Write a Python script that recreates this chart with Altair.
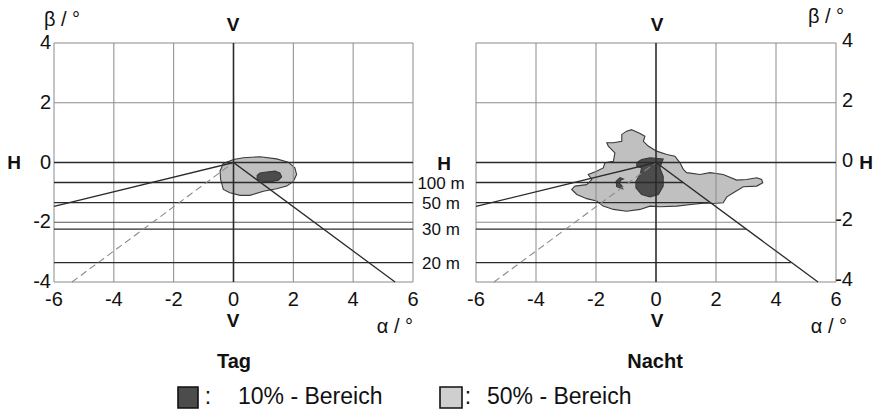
import altair as alt
import pandas as pd

FONT = "Liberation Sans"

# ---- axis ticks ----
x_ticks = [-6, -4, -2, 0, 2, 4, 6]
x_tick_labels = ["-6", "-4", "-2", "0", "2", "4", "6"]
y_ticks = [-4, -2, 0, 2, 4]
y_tick_labels = ["-4", "-2", "0", "2", "4"]

grid_x = [-4, -2, 2, 4]
grid_y = [-2, 2]
frame_x = [-6, 6]
frame_y = [-4, 4]

# ---- distance lines (Sichtweite) ----
dist_names = ["100 m", "50 m", "30 m", "20 m"]
dist_beta = [-0.67, -1.34, -2.23, -3.35]
dist_end_nacht = [0.9, 1.75, 3.0, 4.5]

# ---- sight lines ----
sight_x = [-6.0, 0.0, 5.4]
sight_b = [-1.47, 0.0, -4.0]
dash_x = [-5.4, 0.0]
dash_b = [-4.0, 0.0]

# ---- Tag: 50% / 10% regions ----
tag50_x = [-0.34, 0.0, 0.33, 0.89, 1.44, 1.83, 2.05, 2.11, 2.0, 1.78, 1.44, 1.0,
           0.55, 0.22, -0.12, -0.34, -0.43, -0.45]
tag50_b = [-0.03, 0.1, 0.16, 0.19, 0.12, 0.01, -0.18, -0.40, -0.63, -0.79, -0.88, -0.96,
           -1.10, -1.10, -1.01, -0.90, -0.57, -0.29]
tag10_x = [0.79, 0.885, 1.11, 1.39, 1.55, 1.61, 1.50, 1.22, 0.94, 0.79]
tag10_b = [-0.43, -0.35, -0.32, -0.29, -0.35, -0.48, -0.59, -0.65, -0.63, -0.55]

# ---- Nacht: 50% / 10% regions ----
nacht50_x = [-0.81, -0.53, -0.37, -0.42, -0.26, 0.02, 0.36, 0.63, 0.8, 0.91, 1.02, 1.47,
             1.8, 2.24, 2.69, 3.02, 3.36, 3.52, 3.56, 3.36, 2.91, 2.58, 2.36, 2.24,
             1.91, 1.69, 1.24, 0.69, 0.13, -0.2, -0.53, -0.98, -1.42, -1.76, -1.98, -2.31,
             -2.64, -2.81, -2.7, -2.31, -2.14, -2.26, -1.98, -1.76, -1.7, -1.42, -1.37, -1.59,
             -1.64, -1.42, -1.14, -1.14, -0.98]
nacht50_b = [1.10, 0.97, 0.88, 0.71, 0.55, 0.38, 0.27, 0.21, -0.01, -0.23, -0.34, -0.40,
             -0.34, -0.40, -0.59, -0.57, -0.51, -0.57, -0.68, -0.79, -0.81, -1.01, -1.15, -1.35,
             -1.37, -1.35, -1.40, -1.46, -1.48, -1.46, -1.57, -1.63, -1.57, -1.46, -1.29, -1.21,
             -1.07, -0.90, -0.79, -0.74, -0.57, -0.40, -0.29, -0.18, -0.01, 0.04, 0.32, 0.55,
             0.66, 0.66, 0.71, 0.94, 1.05]
nacht10_x = [-0.64, -0.48, -0.2, 0.24, 0.19, 0.13, 0.24, 0.24, 0.08, -0.2, -0.48, -0.67,
             -0.67, -0.53, -0.48, -0.64]
nacht10_b = [-0.01, 0.10, 0.16, 0.12, -0.01, -0.18, -0.46, -0.79, -1.07, -1.15, -1.07, -0.85,
             -0.63, -0.40, -0.18, -0.12]
nacht10c_x = [-1.2, -1.33, -1.31, -1.11, -1.14, -1.22, -1.18, -1.09]
nacht10c_b = [-0.51, -0.63, -0.81, -0.88, -0.77, -0.70, -0.59, -0.55]

legend_labels = ["10% - Bereich", "50% - Bereich"]

# ---- styles ----
GRID = "#8a8a8a"
DARK = "#2b2b2b"
LIGHT_FILL = "#c0c0c0"
DARK_FILL = "#4c4c4c"
OUTLINE = "#3a3a3a"

YS = alt.Scale(domain=[-4, 4], range=[282, 43])
XL = alt.Scale(domain=[-6, 6], range=[54, 413])
XR = alt.Scale(domain=[-6, 6], range=[476, 836])


def poly(parts, xs, fill):
    rows = []
    for pid, (px, pb) in enumerate(parts):
        for i, (a, b) in enumerate(zip(px, pb)):
            rows.append({"part": pid, "i": i, "x": a, "b": b})
    return alt.Chart(pd.DataFrame(rows)).mark_line(
        interpolate="linear-closed", fill=fill, stroke=OUTLINE, strokeWidth=1.1, fillOpacity=1
    ).encode(
        x=alt.X("x:Q", scale=xs, axis=None),
        y=alt.Y("b:Q", scale=YS, axis=None),
        detail="part:N",
        order="i:Q",
    )


def vrules(vals, xs, color, width):
    df = pd.DataFrame({"x": vals, "b1": [frame_y[0]] * len(vals), "b2": [frame_y[1]] * len(vals)})
    return alt.Chart(df).mark_rule(color=color, strokeWidth=width).encode(
        x=alt.X("x:Q", scale=xs, axis=None),
        y=alt.Y("b1:Q", scale=YS, axis=None),
        y2="b2:Q",
    )


def hrules(vals, xs, color, width, ends=None):
    df = pd.DataFrame({"b": vals, "s": [frame_x[0]] * len(vals),
                       "e": ends if ends is not None else [frame_x[1]] * len(vals)})
    return alt.Chart(df).mark_rule(color=color, strokeWidth=width).encode(
        y=alt.Y("b:Q", scale=YS, axis=None),
        x=alt.X("s:Q", scale=xs, axis=None),
        x2="e:Q",
    )


def pline(px, pb, xs, color, width, dash=None):
    df = pd.DataFrame({"i": range(len(px)), "x": px, "b": pb})
    kw = dict(color=color, strokeWidth=width)
    if dash:
        kw["strokeDash"] = dash
    return alt.Chart(df).mark_line(**kw).encode(
        x=alt.X("x:Q", scale=xs, axis=None),
        y=alt.Y("b:Q", scale=YS, axis=None),
        order="i:Q",
    )


def xlabels(xs):
    df = pd.DataFrame({"v": x_ticks, "lab": x_tick_labels})
    return alt.Chart(df).mark_text(font=FONT, fontSize=20, baseline="middle", color="#111").encode(
        x=alt.X("v:Q", scale=xs, axis=None), y=alt.value(300), text="lab:N"
    )


def ylabels(xpos, align, dy=0):
    df = pd.DataFrame({"v": y_ticks, "lab": y_tick_labels})
    return alt.Chart(df).mark_text(font=FONT, fontSize=20, baseline="middle", align=align,
                                   color="#111", dy=dy).encode(
        y=alt.Y("v:Q", scale=YS, axis=None), x=alt.value(xpos), text="lab:N"
    )


def txt(s, x, y, size=20, weight="normal", align="center", font=FONT):
    return alt.Chart(pd.DataFrame({"t": [s]})).mark_text(
        font=font, fontSize=size, fontWeight=weight, align=align, baseline="middle", color="#111"
    ).encode(x=alt.value(x), y=alt.value(y), text="t:N")


def box(x1, x2, y1, y2, fill):
    return alt.Chart(pd.DataFrame({"k": [0]})).mark_rect(fill=fill, stroke="#111", strokeWidth=1.6).encode(
        x=alt.value(x1), x2=alt.value(x2), y=alt.value(y1), y2=alt.value(y2)
    )


layers = []
# --- Tag panel ---
layers += [
    poly([(tag50_x, tag50_b)], XL, LIGHT_FILL),
    poly([(tag10_x, tag10_b)], XL, DARK_FILL),
    vrules(grid_x, XL, GRID, 1),
    vrules(frame_x, XL, GRID, 1),
    hrules([2], XL, GRID, 1),
    hrules(frame_y, XL, GRID, 1),
    hrules([-2], XL, "#555", 1.2),
    hrules(dist_beta, XL, DARK, 1.3),
    vrules([0], XL, DARK, 1.6),
    hrules([0], XL, DARK, 1.6),
    pline(dash_x, dash_b, XL, "#8a8a8a", 1.1, [7, 4]),
    pline(sight_x, sight_b, XL, DARK, 1.3),
    xlabels(XL),
    ylabels(51, "right"),
]
# --- Nacht panel ---
layers += [
    poly([(nacht50_x, nacht50_b)], XR, LIGHT_FILL),
    poly([(nacht10_x, nacht10_b), (nacht10c_x, nacht10c_b)], XR, DARK_FILL),
    vrules(grid_x, XR, GRID, 1),
    vrules(frame_x, XR, GRID, 1),
    hrules(grid_y, XR, GRID, 1),
    hrules(frame_y, XR, GRID, 1),
    hrules(dist_beta, XR, DARK, 1.3, dist_end_nacht),
    vrules([0], XR, DARK, 1.6),
    hrules([0], XR, DARK, 1.6),
    pline(dash_x, dash_b, XR, "#8a8a8a", 1.1, [7, 4]),
    pline(sight_x, sight_b, XR, DARK, 1.3),
    xlabels(XR),
    ylabels(853, "right", -2),
]

# distance labels between panels
dist_df = pd.DataFrame({"b": dist_beta, "name": dist_names})
layers.append(
    alt.Chart(dist_df).mark_text(font=FONT, fontSize=17, baseline="middle", dy=1, color="#111").encode(
        y=alt.Y("b:Q", scale=YS, axis=None), x=alt.value(441), text="name:N"
    )
)

# annotations
layers += [
    txt("β / °", 62, 20, 20),
    txt("V", 233, 25, 19, "bold"),
    txt("H", 14, 163, 19, "bold"),
    txt("V", 233, 321, 19, "bold"),
    txt("α / °", 413, 327, 20, align="right"),
    txt("Tag", 234, 362, 20, "bold"),
    txt("H", 444, 164, 19, "bold"),
    txt("V", 657, 25, 19, "bold"),
    txt("β / °", 826, 17, 20),
    txt("H", 866, 163, 19, "bold"),
    txt("V", 657, 321, 19, "bold"),
    txt("α / °", 847, 327, 20, align="right"),
    txt("Nacht", 655, 362, 20, "bold"),
    box(178, 198, 387, 408, DARK_FILL),
    txt(":", 208, 397, 23),
    txt(legend_labels[0], 238, 397, 23, align="left"),
    box(440, 462, 387, 408, "#cfcfcf"),
    txt(":", 468, 397, 23),
    txt(legend_labels[1], 487, 397, 23, align="left"),
]

chart = alt.layer(*layers).resolve_scale(x="independent").properties(
    width=879, height=416, autosize=alt.AutoSizeParams(type="none"), padding=0
).configure_view(strokeWidth=0)

chart.save("out.html", embed_options={"renderer": "svg", "actions": False})
